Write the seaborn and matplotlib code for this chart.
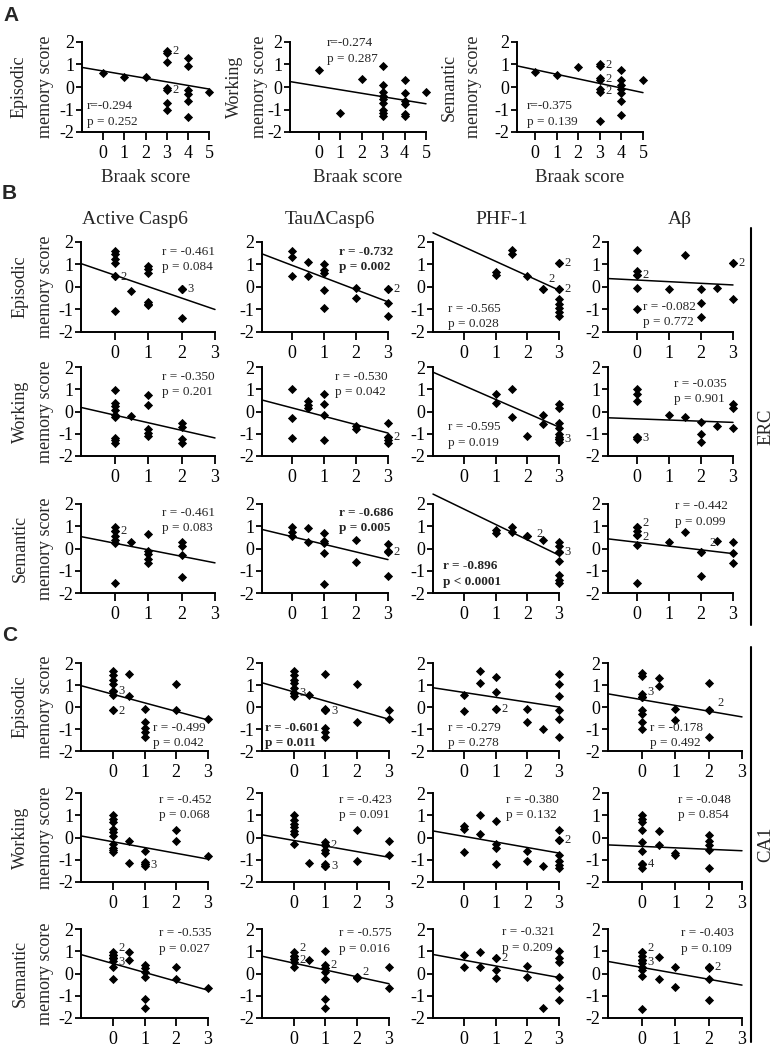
import matplotlib
matplotlib.use("Agg")
import matplotlib.pyplot as plt
from matplotlib.lines import Line2D
import seaborn as sns

# ---------------- DATA ----------------
# Panel A: Braak score vs memory scores  {braak: [scores]}
A_episodic = {0: [0.6], 1: [0.45], 2: [0.43], 3: [1.6, 1.5, 1.1, -0.05, -0.15, -0.7, -1.0],
              4: [1.3, 0.95, -0.15, -0.3, -0.6, -1.35], 5: [-0.2]}
A_working = {0: [0.75], 1: [-1.15], 2: [0.35], 3: [0.95, 0.1, -0.2, -0.4, -0.55, -0.7, -1.0, -1.15, -1.3],
             4: [0.3, -0.25, -0.6, -0.75, -1.2, -1.3], 5: [-0.2]}
A_semantic = {0: [0.65], 1: [0.55], 2: [0.9], 3: [1.0, 0.95, 0.4, 0.3, -0.1, -0.2, -1.5],
              4: [0.75, 0.3, 0.1, -0.1, -0.25, -0.6, -1.25], 5: [0.3]}
A_episodic_n = [(3, 1.6, "2"), (3, -0.15, "2")]
A_working_n = []
A_semantic_n = [(3, 1.0, "2"), (3, 0.35, "2"), (3, -0.2, "2")]
A_fits = [(0.71, -0.16), (0.03, -0.155), (0.77, -0.204)]          # (intercept, slope)
A_stats = [("r=-0.294", "p = 0.252"), ("r=-0.274", "p = 0.287"), ("r=-0.375", "p = 0.139")]

# Panel B (ERC): pathology score vs memory scores
B_casp6_episodic = {0: [1.6, 1.45, 1.25, 1.05, 0.5, 0.5, -1.05], 0.5: [-0.2], 1: [0.95, 0.8, 0.6, -0.65, -0.75, -0.8],
                    2: [-0.1, -0.1, -0.1, -1.4]}
B_tau_episodic = {0: [1.6, 1.35, 0.5], 0.5: [1.1, 0.5], 1: [1.0, 0.75, 0.6, -0.15, -0.95], 2: [-0.05, -0.5],
                  3: [-0.1, -0.1, -0.7, -1.3]}
B_phf_episodic = {1: [0.65, 0.55], 1.5: [1.65, 1.45], 2: [0.5], 2.5: [-0.1, -0.1],
                  3: [1.05, 1.05, -0.1, -0.1, -0.55, -0.75, -0.95, -1.1, -1.3]}
B_abeta_episodic = {0: [1.65, 0.7, 0.55, 0.55, -0.05, -1.0], 1: [-0.1], 1.5: [1.4], 2: [-0.1, -0.7, -1.35],
                    2.5: [-0.05], 3: [1.05, 1.05, -0.55]}
B_casp6_working = {0: [0.95, 0.4, 0.25, 0.05, -0.15, -0.25, -1.2, -1.3, -1.4], 0.5: [-0.2],
                   1: [0.75, 0.3, -0.8, -0.95, -1.1], 2: [-0.5, -0.7, -1.25, -1.4]}
B_tau_working = {0: [1.0, -0.3, -1.2], 0.5: [0.45, 0.3, 0.15], 1: [0.8, 0.35, -0.15, -1.3], 2: [-0.65, -0.8],
                 3: [-0.5, -1.15, -1.15, -1.3, -1.4]}
B_phf_working = {1: [0.8, 0.4], 1.5: [1.0, -0.25], 2: [-1.1], 2.5: [-0.15, -0.55],
                 3: [0.35, 0.15, -0.5, -0.75, -1.0, -1.15, -1.25, -1.25, -1.25, -1.35]}
B_abeta_working = {0: [1.0, 0.8, 0.45, -1.15, -1.15, -1.15, -1.25], 1: [-0.15], 1.5: [-0.25],
                   2: [-0.45, -1.0, -1.35], 2.5: [-0.65], 3: [0.35, 0.15, -0.75]}
B_casp6_semantic = {0: [0.95, 0.8, 0.8, 0.55, 0.4, 0.25, -1.55], 0.5: [0.3], 1: [0.65, -0.1, -0.25, -0.45, -0.65],
                    2: [0.3, 0.1, -0.3, -1.3]}
B_tau_semantic = {0: [0.95, 0.75, 0.55], 0.5: [0.9, 0.3], 1: [0.7, 0.35, 0.25, -0.2, -1.6], 2: [0.4, -0.6],
                  3: [0.2, -0.1, -0.15, -1.25]}
B_phf_semantic = {1: [0.85, 0.7], 1.5: [0.95, 0.75], 2: [0.55, 0.55], 2.5: [0.4],
                  3: [0.3, 0.1, -0.15, -0.15, -0.15, -0.55, -1.2, -1.4, -1.55]}
B_abeta_semantic = {0: [0.95, 0.95, 0.8, 0.6, 0.6, 0.15, -1.55], 1: [0.3], 1.5: [0.75], 2: [-0.15, -0.15, -1.25],
                    2.5: [0.35], 3: [0.3, -0.2, -0.65]}
B_counts = [[(0, 0.45, "2"), (2, -0.1, "3")], [(3, -0.1, "2")],
            [(2.5, 0.35, "2"), (3, 1.05, "2"), (3, -0.1, "2")], [(0, 0.55, "2"), (3, 1.05, "2")],
            [], [(3, -1.15, "2")], [(3, -1.25, "3")], [(0, -1.2, "3")],
            [(0, 0.8, "2")], [(3, -0.15, "2")], [(2.1, 0.65, "2"), (3, -0.15, "3")],
            [(0, 1.15, "2"), (0, 0.52, "2"), (2.1, 0.25, "2")]]
B_fits = [(0.53, -0.51), (0.96, -0.54), (1.78, -0.64), (0.31, -0.073),
          (-0.16, -0.343), (0.16, -0.376), (1.16, -0.62), (-0.33, -0.053),
          (0.24, -0.295), (0.53, -0.343), (1.77, -0.69), (0.28, -0.17)]
B_stats = [("r = -0.461", "p = 0.084"), ("r = -0.732", "p = 0.002"), ("r = -0.565", "p = 0.028"),
           ("r = -0.082", "p = 0.772"), ("r = -0.350", "p = 0.201"), ("r = -0.530", "p = 0.042"),
           ("r = -0.595", "p = 0.019"), ("r = -0.035", "p = 0.901"), ("r = -0.461", "p = 0.083"),
           ("r = -0.686", "p = 0.005"), ("r = -0.896", "p < 0.0001"), ("r = -0.442", "p = 0.099")]
B_bold = [False, True, False, False, False, False, False, False, False, True, True, False]

# Panel C (CA1)
C_casp6_episodic = {0: [1.65, 1.45, 1.25, 1.05, 0.75, 0.75, 0.75, 0.55, -0.15, -0.15], 0.5: [1.5, 0.5],
                    1: [-0.1, -0.7, -0.95, -1.15, -1.35], 2: [1.05, -0.15], 3: [-0.55]}
C_tau_episodic = {0: [1.65, 1.45, 1.25, 1.1, 0.85, 0.65, 0.65, 0.65, 0.5], 0.5: [0.55],
                  1: [1.5, -0.1, -0.15, -0.15, -0.15, -0.95, -1.15, -1.35], 2: [1.05, -0.7], 3: [-0.15, -0.55]}
C_phf_episodic = {0: [0.55, -0.2], 0.5: [1.65, 1.1], 1: [1.35, 0.7, -0.1, -0.1], 2: [-0.1, -0.7], 2.5: [-1.0],
                  3: [1.5, 1.05, 0.5, -0.15, -0.55, -1.35]}
C_abeta_episodic = {0: [1.55, 1.4, 0.6, 0.45, 0.45, 0.45, -0.15, -0.3, -0.7, -1.0], 0.5: [1.3, 0.95],
                    1: [-0.1, -0.6], 2: [1.1, -0.15, -0.15, -1.35]}
C_casp6_working = {0: [1.0, 0.85, 0.7, 0.4, 0.25, 0.05, -0.3, -0.45, -0.55, -0.65], 0.5: [-0.15, -1.15],
                   1: [-0.6, -1.1, -1.2, -1.2, -1.2, -1.3], 2: [0.35, -0.15], 3: [-0.85]}
C_tau_working = {0: [1.0, 0.8, 0.6, 0.45, 0.3, 0.15, -0.3], 0.5: [-1.15],
                 1: [-0.2, -0.35, -0.35, -0.55, -0.7, -1.2, -1.3, -1.3, -1.3], 2: [0.35, -1.05], 3: [-0.15, -0.8]}
C_phf_working = {0: [0.5, 0.4, -0.65], 0.5: [1.0, 0.15], 1: [0.75, -0.3, -0.45, -1.2], 2: [-0.6, -1.05],
                 2.5: [-1.3], 3: [0.35, -0.1, -0.1, -0.8, -1.05, -1.25, -1.35]}
C_abeta_working = {0: [1.0, 0.85, 0.7, 0.35, -0.2, -0.6, -1.2, -1.2, -1.2, -1.2, -1.35], 0.5: [0.3, -0.35],
                   1: [-0.7, -0.8], 2: [0.1, -0.15, -0.35, -0.55, -1.35]}
C_casp6_semantic = {0: [0.95, 0.85, 0.85, 0.7, 0.7, 0.7, 0.55, 0.3, -0.25], 0.5: [0.95, 0.6],
                    1: [0.4, 0.25, 0.05, -0.15, -1.15, -1.55], 2: [0.3, -0.25], 3: [-0.65]}
C_tau_semantic = {0: [0.95, 0.8, 0.8, 0.65, 0.65, 0.5, 0.3], 0.5: [0.6],
                  1: [1.0, 0.4, 0.25, 0.25, 0.05, -0.25, -1.15, -1.55], 2: [-0.15, -0.15, -0.2], 3: [0.3, -0.65]}
C_phf_semantic = {0: [0.85, 0.3], 0.5: [0.95, 0.3], 1: [0.7, 0.7, 0.15, -0.2], 2: [0.35, -0.15], 2.5: [-1.55],
                  3: [1.0, 0.7, 0.5, -0.15, -0.65, -1.2]}
C_abeta_semantic = {0: [0.95, 0.95, 0.8, 0.6, 0.6, 0.6, 0.45, 0.3, 0.15, -0.1, -1.6], 0.5: [0.75, -0.25],
                    1: [0.3, -0.6], 2: [0.3, 0.3, 0.25, -0.25, -1.2]}
C_counts = [[(0, 0.75, "3"), (0, -0.2, "2")], [(0, 0.65, "3"), (1, -0.2, "3")], [(1, -0.1, "2")],
            [(0, 0.7, "3"), (2.1, 0.2, "2")],
            [(1, -1.25, "3")], [(1, -0.35, "2"), (1, -1.3, "3")], [(3, -0.1, "2")], [(0, -1.2, "4")],
            [(0, 1.15, "2"), (0, 0.52, "3")], [(0, 1.15, "2"), (0, 0.6, "2"), (1, 0.4, "2"), (2, 0.05, "2")],
            [(1, 0.7, "2")], [(0, 1.15, "2"), (0, 0.52, "3"), (2, 0.3, "2")]]
C_fits = [(0.58, -0.39), (0.69, -0.416), (0.66, -0.22), (0.33, -0.26),
          (-0.19, -0.26), (-0.13, -0.253), (0.05, -0.25), (-0.4, -0.065),
          (0.45, -0.4), (0.47, -0.31), (0.6, -0.26), (0.27, -0.264)]
C_stats = [("r = -0.499", "p = 0.042"), ("r = -0.601", "p = 0.011"), ("r = -0.279", "p = 0.278"),
           ("r = -0.178", "p = 0.492"), ("r = -0.452", "p = 0.068"), ("r = -0.423", "p = 0.091"),
           ("r = -0.380", "p = 0.132"), ("r = -0.048", "p = 0.854"), ("r = -0.535", "p = 0.027"),
           ("r = -0.575", "p = 0.016"), ("r = -0.321", "p = 0.209"), ("r = -0.403", "p = 0.109")]
C_bold = [False, True, False, False, False, False, False, False, False, False, False, False]

column_titles = ["Active Casp6", "Tau\u0394Casp6", "PHF-1", "A\u03b2"]
memory_labels = [("Episodic", "memory score"), ("Working", "memory score"), ("Semantic", "memory score")]
y_ticks = [-2, -1, 0, 1, 2]

# ---------------- STYLE / LAYOUT ----------------
sns.set_theme(style="ticks")
plt.rcParams["font.family"] = ["Liberation Serif", "DejaVu Serif"]
plt.rcParams["axes.unicode_minus"] = False

W, H = 774, 1050
fig = plt.figure(figsize=(W / 100, H / 100), dpi=100)
fig.patch.set_facecolor("white")

TICK_FS = 13
STAT_FS = 9.5
CNT_FS = 9


def add_ax(left, right, top, bottom):
    return fig.add_axes([left / W, 1 - bottom / H, (right - left) / W, (bottom - top) / H])


def style_ax(ax, x0, xmax, xticks):
    ax.set_xlim(x0, xmax)
    ax.set_ylim(-2, 2)
    ax.set_xticks(xticks)
    ax.set_yticks(y_ticks)
    ax.set_xticklabels([str(t) for t in xticks])
    ax.set_yticklabels([str(t) for t in y_ticks])
    for s in ["top", "right"]:
        ax.spines[s].set_visible(False)
    for s in ["left", "bottom"]:
        ax.spines[s].set_linewidth(1.4)
        ax.spines[s].set_color("black")
    ax.tick_params(axis="both", direction="out", width=1.3, colors="black", labelsize=TICK_FS)
    ax.tick_params(axis="y", length=4.5, pad=1)
    ax.tick_params(axis="x", length=5.5, pad=4)
    ax.set_facecolor("white")
    ax.set_xlabel("")
    ax.set_ylabel("")


def draw_panel(ax, data, counts, fit, stats, x0, xmax, xticks, spos, bold):
    xs, ys = [], []
    for k, vals in data.items():
        for v in vals:
            xs.append(k)
            ys.append(v)
    a, b = fit
    sns.lineplot(x=[x0, xmax], y=[a + b * x0, a + b * xmax], color="black", linewidth=1.1,
                 ax=ax, errorbar=None, legend=False)
    for ln in ax.lines:
        ln.set_clip_on(False)
    sns.scatterplot(x=xs, y=ys, marker="D", s=22, color="black", linewidth=0, ax=ax,
                    legend=False, clip_on=False, zorder=3)
    for (cx, cy, lab) in counts:
        ax.annotate(lab, (cx, cy), xytext=(4, 0), textcoords="offset points",
                    fontsize=CNT_FS, ha="left", va="center")
    xf, yf, ha, va = spos
    ax.text(xf, yf, stats[0] + "\n" + stats[1], transform=ax.transAxes, ha=ha, va=va,
            fontsize=STAT_FS, linespacing=1.4, fontweight="bold" if bold else "normal",
            multialignment="left")
    style_ax(ax, x0, xmax, xticks)


def ylabel2(lines, x1, x2, yc):
    fig.text(x1 / W, 1 - yc / H, lines[0], rotation=90, ha="center", va="center", fontsize=13)
    fig.text(x2 / W, 1 - yc / H, lines[1], rotation=90, ha="center", va="center", fontsize=13)


# ---------- Panel A ----------
A_data = [A_episodic, A_working, A_semantic]
A_counts = [A_episodic_n, A_working_n, A_semantic_n]
A_left = [82, 290, 517]
A_right = [209, 426, 643]
A_x0 = [-1.0, -1.36, -0.83]
A_spos = [(0.04, 0.05, "left", "bottom"), (0.27, 1.05, "left", "top"), (0.08, 0.05, "left", "bottom")]
A_ylab_x = [(19, 45), (234, 260), (449, 474)]
A_top, A_bot = 42, 132
for i in range(3):
    ax = add_ax(A_left[i], A_right[i], A_top, A_bot)
    draw_panel(ax, A_data[i], A_counts[i], A_fits[i], A_stats[i], A_x0[i], 5, [0, 1, 2, 3, 4, 5],
               A_spos[i], False)
    ax.set_xlabel("Braak score", fontsize=13.5, labelpad=5)
    ylabel2(memory_labels[i], A_ylab_x[i][0], A_ylab_x[i][1], (A_top + A_bot) / 2)

# ---------- Panels B and C ----------
B_data = [B_casp6_episodic, B_tau_episodic, B_phf_episodic, B_abeta_episodic,
          B_casp6_working, B_tau_working, B_phf_working, B_abeta_working,
          B_casp6_semantic, B_tau_semantic, B_phf_semantic, B_abeta_semantic]
C_data = [C_casp6_episodic, C_tau_episodic, C_phf_episodic, C_abeta_episodic,
          C_casp6_working, C_tau_working, C_phf_working, C_abeta_working,
          C_casp6_semantic, C_tau_semantic, C_phf_semantic, C_abeta_semantic]

B_rows = [(242, 332), (367, 456), (504, 593)]
C_rows = [(663, 751), (793, 882), (929, 1018)]
B_cols = [(81, 215), (262, 388), (433, 559), (608, 733)]
C_cols = [(81, 208), (262, 389), (433, 559), (608, 742)]
B_x0 = [-1.0, -0.95, -0.98, -0.9]
C_x0 = [-1.0, -0.99, -0.98, -1.03]

B_spos = [(1.0, 0.96, "right", "top"), (1.04, 0.96, "right", "top"), (0.12, 0.02, "left", "bottom"),
          (0.70, 0.04, "right", "bottom"),
          (1.0, 0.96, "right", "top"), (1.0, 0.96, "right", "top"), (0.12, 0.08, "left", "bottom"),
          (0.95, 0.88, "right", "top"),
          (1.0, 0.97, "right", "top"), (1.04, 0.97, "right", "top"), (0.08, 0.06, "left", "bottom"),
          (0.96, 1.04, "right", "top")]
C_spos = [(0.98, 0.02, "right", "bottom"), (0.02, 0.02, "left", "bottom"), (0.12, 0.02, "left", "bottom"),
          (0.71, 0.02, "right", "bottom"),
          (1.03, 0.99, "right", "top"), (1.02, 0.99, "right", "top"), (1.0, 0.99, "right", "top"),
          (0.92, 0.99, "right", "top"),
          (1.03, 1.02, "right", "top"), (1.02, 1.02, "right", "top"), (0.97, 1.03, "right", "top"),
          (0.94, 1.02, "right", "top")]

for grp_data, grp_counts, grp_fits, grp_stats, grp_bold, rows, cols, x0s, sposs in [
        (B_data, B_counts, B_fits, B_stats, B_bold, B_rows, B_cols, B_x0, B_spos),
        (C_data, C_counts, C_fits, C_stats, C_bold, C_rows, C_cols, C_x0, C_spos)]:
    for r in range(3):
        for c in range(4):
            k = r * 4 + c
            ax = add_ax(cols[c][0], cols[c][1], rows[r][0], rows[r][1])
            draw_panel(ax, grp_data[k], grp_counts[k], grp_fits[k], grp_stats[k], x0s[c], 3,
                       [0, 1, 2, 3], sposs[k], grp_bold[k])
        ylabel2(memory_labels[r], 20, 45, (rows[r][0] + rows[r][1]) / 2)

# column titles
for cx, t in zip([135, 330, 502, 680], column_titles):
    fig.text(cx / W, 1 - 220 / H, t, ha="center", va="center", fontsize=14)

# region brackets
for (y1, y2, lab) in [(228, 625, "ERC"), (647, 1042, "CA1")]:
    fig.add_artist(Line2D([751 / W, 751 / W], [1 - y1 / H, 1 - y2 / H], color="black", linewidth=1.5))
    fig.text(766 / W, 1 - (y1 + y2) / 2 / H, lab, rotation=90, ha="center", va="center", fontsize=13.5)

# panel letters
for (lx, ly, lab) in [(3, 6, "A"), (2, 184, "B"), (2, 626, "C")]:
    fig.text(lx / W, 1 - ly / H, lab, ha="left", va="top", fontsize=15, fontweight="bold",
             family=["Liberation Sans", "DejaVu Sans"])

fig.savefig("out.png", dpi=100, facecolor="white")
